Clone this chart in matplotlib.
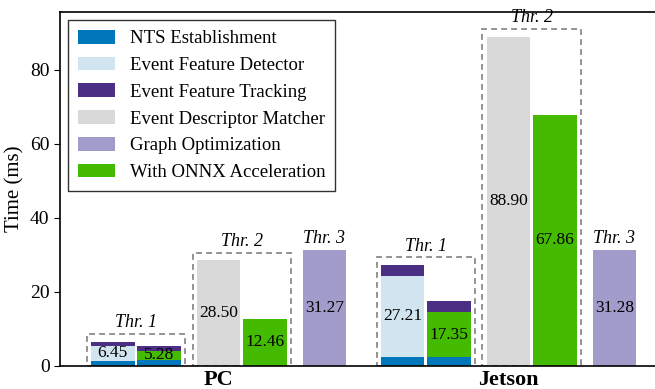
import numpy as np
import matplotlib
matplotlib.use("Agg")
import matplotlib.pyplot as plt
from matplotlib.patches import Rectangle

plt.rcParams['font.family'] = ['Liberation Serif', 'DejaVu Serif']

# data (ms)
platforms = ['PC', 'Jetson']
thr1_total = [6.45, 27.21]          # baseline front-end
thr1_onnx_total = [5.28, 17.35]     # front-end with ONNX
nts_base = [1.30, 2.40]
nts_onnx = [1.45, 2.40]
tracking_base = [1.25, 2.91]
tracking_onnx = [1.25, 3.00]
matcher = [28.50, 88.90]
matcher_onnx = [12.46, 67.86]
graph_opt = [31.27, 31.28]

c_nts = '#0077bb'
c_det = '#d1e5f0'
c_trk = '#4b2f85'
c_match = '#d9d9d9'
c_graph = '#a29ccb'
c_onnx = '#44bb00'

x = np.arange(len(platforms))
w = 0.15
off = [-0.364, -0.204, 0.0, 0.161, 0.366]

thr1_total = np.array(thr1_total)
thr1_onnx_total = np.array(thr1_onnx_total)
nts_base = np.array(nts_base)
nts_onnx = np.array(nts_onnx)
tracking_base = np.array(tracking_base)
tracking_onnx = np.array(tracking_onnx)
detector = thr1_total - nts_base - tracking_base
detector_onnx = thr1_onnx_total - nts_onnx - tracking_onnx

fig = plt.figure(figsize=(6.55, 3.89), dpi=100)
ax = fig.add_axes([60 / 655, 1 - 365.5 / 389, 1 - 60 / 655, (365.5 - 12) / 389])

# Thr. 1 bars
x1 = x + off[0]
x2 = x + off[1]
ax.bar(x1, nts_base, w, color=c_nts, label='NTS Establishment')
ax.bar(x1, detector, w, bottom=nts_base, color=c_det, label='Event Feature Detector')
ax.bar(x1, tracking_base, w, bottom=nts_base + detector, color=c_trk, label='Event Feature Tracking')
ax.bar(x2, nts_onnx, w, color=c_nts)
ax.bar(x2, detector_onnx, w, bottom=nts_onnx, color=c_onnx)
ax.bar(x2, tracking_onnx, w, bottom=nts_onnx + detector_onnx, color=c_trk)

# Thr. 2 bars
x3 = x + off[2]
x4 = x + off[3]
ax.bar(x3, matcher, w, color=c_match, label='Event Descriptor Matcher')
# Thr. 3 bars
x5 = x + off[4]
ax.bar(x5, graph_opt, w, color=c_graph, label='Graph Optimization')
ax.bar(x4, matcher_onnx, w, color=c_onnx, label='With ONNX Acceleration')

fs_val = 12.5
for i in range(len(platforms)):
    ax.text(x1[i], nts_base[i] + detector[i] / 2, f'{thr1_total[i]:.2f}',
            ha='center', va='center', fontsize=fs_val)
    ax.text(x2[i], nts_onnx[i] + detector_onnx[i] / 2, f'{thr1_onnx_total[i]:.2f}',
            ha='center', va='center', fontsize=fs_val)
    ax.text(x3[i], matcher[i] / 2, f'{matcher[i]:.2f}', ha='center', va='center', fontsize=fs_val)
    ax.text(x4[i], matcher_onnx[i] / 2, f'{matcher_onnx[i]:.2f}', ha='center', va='center', fontsize=fs_val)
    ax.text(x5[i], graph_opt[i] / 2, f'{graph_opt[i]:.2f}', ha='center', va='center', fontsize=fs_val)

    # dashed boxes around thread groups
    padx = 0.014
    for xa, xb, top, name in [(x1[i], x2[i], max(thr1_total[i], thr1_onnx_total[i]), 'Thr. 1'),
                              (x3[i], x4[i], max(matcher[i], matcher_onnx[i]), 'Thr. 2')]:
        left = xa - w / 2 - padx
        right = xb + w / 2 + padx
        ytop = top + 2.0
        ax.add_patch(Rectangle((left, 0), right - left, ytop, fill=False,
                               ls=(0, (3.5, 2.5)), lw=1.2, ec='#808080', zorder=2))
        ax.text((left + right) / 2, ytop + 0.8, name, ha='center', va='bottom',
                fontsize=13, style='italic')
    ax.text(x5[i], graph_opt[i] + 0.8, 'Thr. 3', ha='center', va='bottom',
            fontsize=13, style='italic')

ax.set_xlim(-0.546, 1.506)
ax.set_ylim(0, 95.6)
ax.set_yticks([0, 20, 40, 60, 80])
ax.set_xticks(x)
ax.set_xticklabels(platforms, fontsize=16, fontweight='bold')
ax.tick_params(axis='x', length=0, pad=3)
ax.tick_params(axis='y', labelsize=14, length=4, direction='out')
ax.set_ylabel('Time (ms)', fontsize=15, labelpad=4)
ax.spines['right'].set_visible(False)
for s in ['left', 'top', 'bottom']:
    ax.spines[s].set_linewidth(1.2)
    ax.spines[s].set_zorder(4)

leg = ax.legend(loc='upper left', fontsize=13.5, fancybox=False, framealpha=1,
                edgecolor='#333333', handlelength=2.0, handleheight=0.75,
                labelspacing=0.5, borderpad=0.5, borderaxespad=0.45,
                handletextpad=0.8)
leg.get_frame().set_linewidth(1.0)

fig.savefig('out.png', dpi=100)
